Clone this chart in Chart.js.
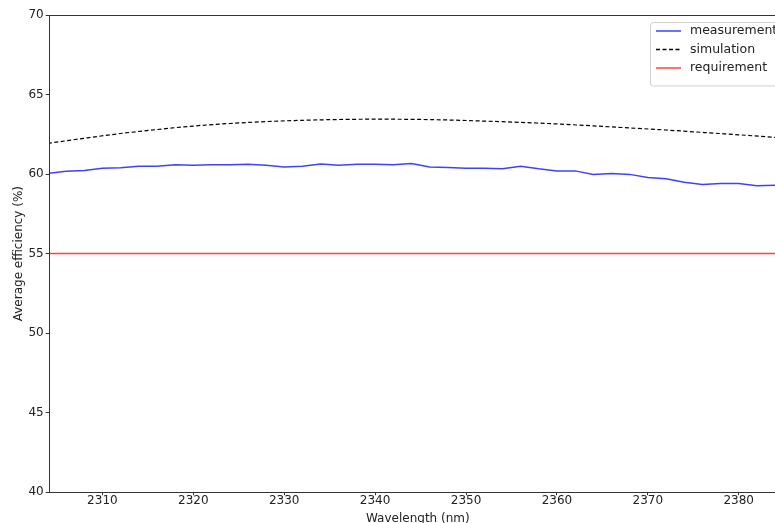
<!DOCTYPE html>
<html>
<head>
<meta charset="utf-8">
<script src="https://cdn.jsdelivr.net/npm/chart.js@4/dist/chart.umd.min.js"></script>
<style>
  html, body { margin: 0; padding: 0; background: #fff; overflow: hidden; }
  #wrap { width: 775px; height: 523px; overflow: hidden; }
</style>
</head>
<body>
<div id="wrap"><canvas id="chart" width="786" height="526"></canvas></div>
<script>
// ============================
// DATA
// ============================
const measWavelength = [2304, 2306, 2308, 2310, 2312, 2314, 2316, 2318, 2320, 2322,
  2324, 2326, 2328, 2330, 2332, 2334, 2336, 2338, 2340, 2342, 2344, 2346, 2348, 2350,
  2352, 2354, 2356, 2358, 2360, 2362, 2364, 2366, 2368, 2370, 2372, 2374, 2376, 2378,
  2380, 2382, 2384, 2386];
const measurement = [60.04, 60.17, 60.23, 60.36, 60.40, 60.49, 60.49, 60.58, 60.55, 60.58,
  60.58, 60.61, 60.55, 60.45, 60.49, 60.64, 60.55, 60.61, 60.61, 60.58, 60.67, 60.45, 60.42, 60.36,
  60.36, 60.33, 60.49, 60.33, 60.20, 60.20, 59.98, 60.04, 59.98, 59.79, 59.70, 59.48, 59.35, 59.41,
  59.41, 59.26, 59.29, 59.30];

const simWavelength = [2304, 2308, 2312, 2316, 2320, 2324, 2328, 2332, 2336, 2340, 2344,
  2348, 2352, 2356, 2360, 2364, 2368, 2372, 2376, 2380, 2384, 2388];
const simulation = [61.93, 62.25, 62.55, 62.80, 63.02, 63.18, 63.30, 63.38, 63.43, 63.45, 63.44,
  63.40, 63.33, 63.25, 63.15, 63.03, 62.90, 62.77, 62.62, 62.47, 62.30, 62.10];

const reqWavelength = [2300, 2390];
const requirement = [55, 55];

const seriesNames = ["measurement", "simulation", "requirement"];
const yTicks = [40, 45, 50, 55, 60, 65, 70];
const xTicks = [2310, 2320, 2330, 2340, 2350, 2360, 2370, 2380];

const pts = (xs, ys) => xs.map((x, i) => ({ x: x, y: ys[i] }));

// ============================
// PLUGINS (top spine + legend in axes)
// ============================
const topSpine = {
  id: "topSpine",
  afterDraw(chart){
    const a = chart.chartArea, c = chart.ctx;
    c.save();
    c.strokeStyle = "#333";
    c.lineWidth = 1;
    c.beginPath();
    c.moveTo(Math.round(a.left), Math.round(a.top) + 0.5);
    c.lineTo(Math.round(a.right), Math.round(a.top) + 0.5);
    c.stroke();
    c.restore();
  }
};

const boxLegend = {
  id: "boxLegend",
  afterDraw(chart){
    const a = chart.chartArea, c = chart.ctx;
    const ds = chart.data.datasets;
    c.save();
    c.font = "12.5px 'DejaVu Sans'";
    let w = 0;
    ds.forEach(d => { w = Math.max(w, c.measureText(d.label).width); });
    const boxW = 40 + w + 8, rowH = 18.5, boxH = ds.length * rowH + 8;
    const x0 = 650, y0 = a.top + 7;
    c.fillStyle = "rgba(255,255,255,0.85)";
    c.strokeStyle = "#d0d0d0";
    c.lineWidth = 1;
    c.beginPath();
    c.roundRect(x0 + 0.5, y0 + 0.5, boxW, boxH, 3);
    c.fill();
    c.stroke();
    ds.forEach((d, i) => {
      const y = y0 + 9 + rowH * i;
      c.strokeStyle = d.borderColor;
      c.lineWidth = 1.5;
      c.setLineDash(d.borderDash || []);
      c.beginPath();
      c.moveTo(x0 + 6, y);
      c.lineTo(x0 + 31, y);
      c.stroke();
      c.setLineDash([]);
      c.fillStyle = "#222";
      c.textBaseline = "middle";
      c.fillText(d.label, x0 + 40, y);
    });
    c.restore();
  }
};

// ============================
// CHART
// ============================
new Chart(document.getElementById("chart"), {
  type: "line",
  data: {
    datasets: [
      {
        label: seriesNames[0],
        data: pts(measWavelength, measurement),
        borderColor: "rgba(0,0,255,0.75)",
        borderWidth: 1.5,
        pointRadius: 0,
        tension: 0
      },
      {
        label: seriesNames[1],
        data: pts(simWavelength, simulation),
        borderColor: "#000",
        borderWidth: 1.2,
        borderDash: [4, 2.5],
        pointRadius: 0,
        cubicInterpolationMode: "monotone"
      },
      {
        label: seriesNames[2],
        data: pts(reqWavelength, requirement),
        borderColor: "rgba(255,0,0,0.75)",
        borderWidth: 1.5,
        pointRadius: 0
      }
    ]
  },
  options: {
    responsive: false,
    animation: false,
    layout: { padding: { left: 12, top: 15, right: 0, bottom: 0 } },
    plugins: {
      legend: { display: false },
      tooltip: { enabled: false }
    },
    scales: {
      x: {
        type: "linear",
        min: 2304.2,
        max: 2385.2,
        afterBuildTicks: s => { s.ticks = xTicks.map(v => ({ value: v })); },
        ticks: { color: "#222", font: { family: "DejaVu Sans", size: 12 }, padding: -2, maxRotation: 0,
                 callback: v => String(v) },
        grid: { drawOnChartArea: false, color: "#333", tickLength: 3 },
        border: { color: "#333" },
        title: { display: true, text: "Wavelength (nm)", color: "#222",
                 font: { family: "DejaVu Sans", size: 12 }, padding: { top: 6, bottom: 0 } }
      },
      y: {
        min: 40,
        max: 70,
        afterBuildTicks: s => { s.ticks = yTicks.map(v => ({ value: v })); },
        ticks: { color: "#222", font: { family: "DejaVu Sans", size: 12 }, padding: 2,
                 callback: v => String(v) },
        grid: { drawOnChartArea: false, color: "#333", tickLength: 4 },
        border: { color: "#333" },
        title: { display: true, text: "Average efficiency (%)", color: "#222",
                 font: { family: "DejaVu Sans", size: 12 }, padding: { top: 0, bottom: 0 } }
      }
    }
  },
  plugins: [topSpine, boxLegend]
});
</script>
</body>
</html>
